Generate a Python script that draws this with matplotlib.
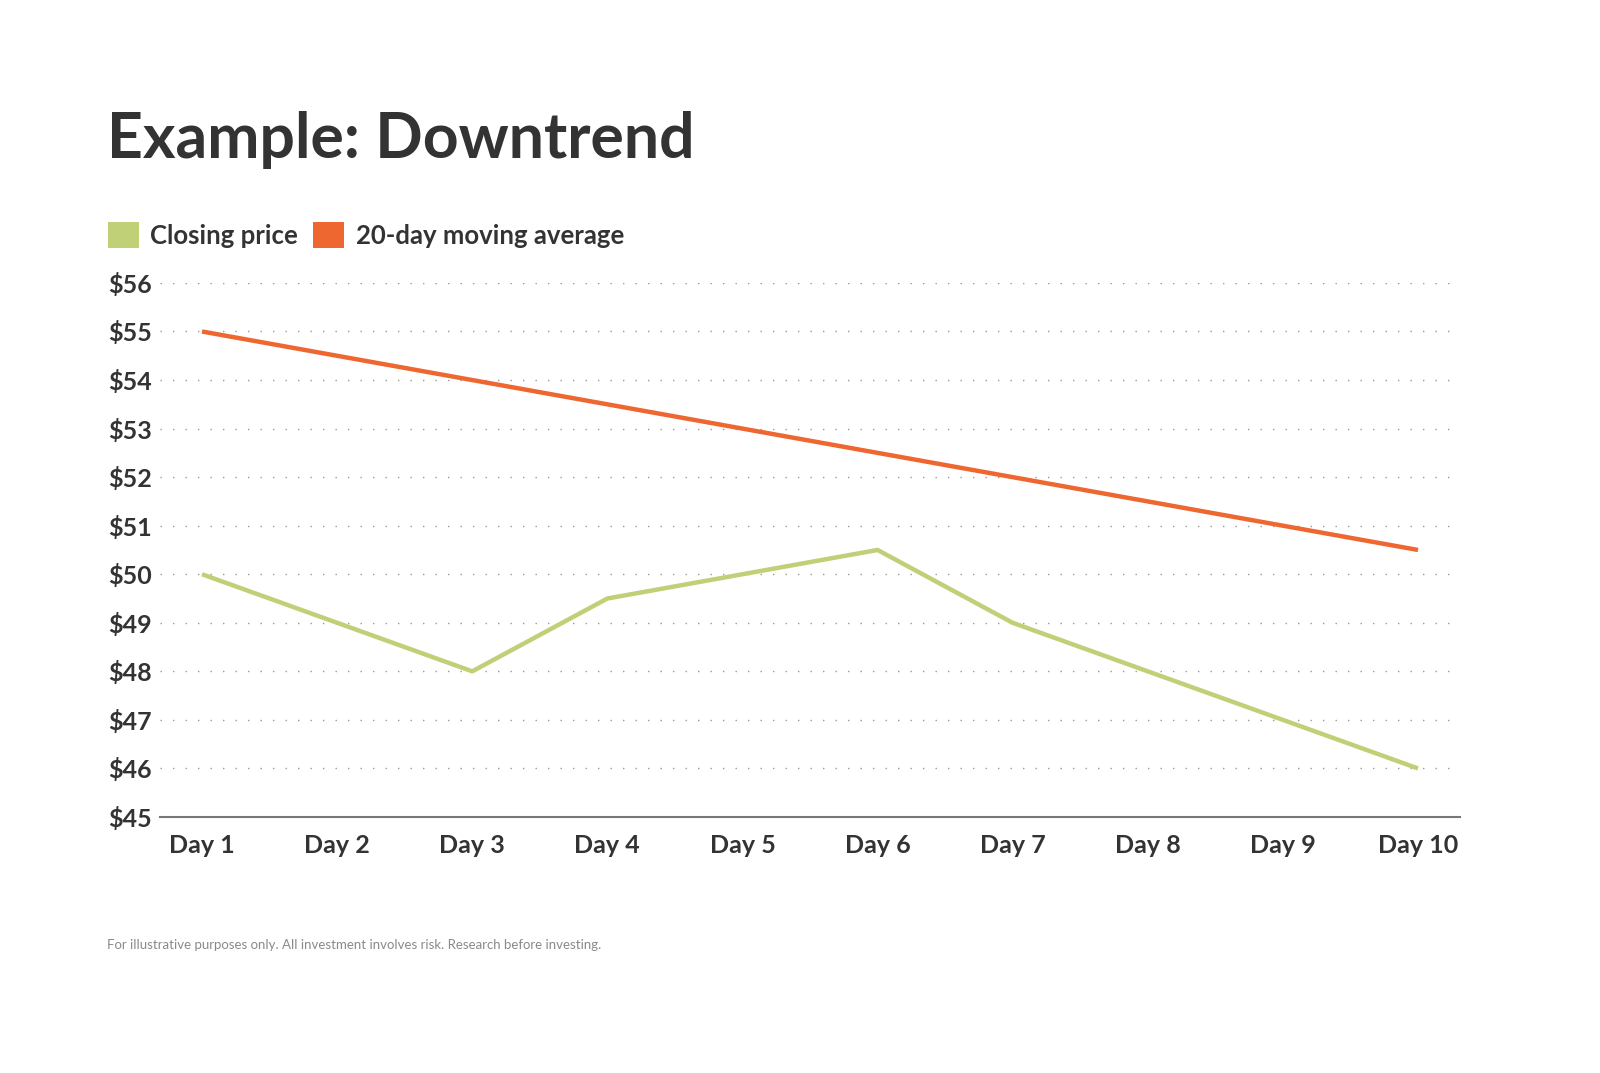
import numpy as np
import matplotlib
matplotlib.use("Agg")
import matplotlib.pyplot as plt
from matplotlib.patches import Patch

days = ["Day %d" % i for i in range(1, 11)]
closing = [50, 49, 48, 49.5, 50, 50.5, 49, 48, 47, 46]
moving_avg = [55, 54.5, 54, 53.5, 53, 52.5, 52, 51.5, 51, 50.5]
yticks = list(range(45, 57))
ylabels = ["$%d" % v for v in yticks]

GREEN = "#BFD077"
ORANGE = "#EF6730"
DARK = "#333333"

plt.rcParams["font.family"] = ["Lato", "DejaVu Sans"]

fig = plt.figure(figsize=(16, 10.73), dpi=100)
ax = fig.add_axes([0.1, 0.2386, 0.8125, 0.4977])

x = np.arange(1, len(days) + 1)
ax.plot(x, closing, color=GREEN, lw=3.2, solid_capstyle="butt", zorder=3)
ax.plot(x, moving_avg, color=ORANGE, lw=3.2, solid_capstyle="butt", zorder=3)

ax.set_xlim(0.689, 10.311)
ax.set_ylim(45, 56)
ax.set_yticks(yticks)
ax.set_yticklabels(ylabels)
ax.set_xticks(x)
ax.set_xticklabels(days)

# sparse dotted gridlines
for v in yticks[1:]:
    ax.axhline(v, color="#999999", lw=1.0, ls=(0, (1, 8)), zorder=1)

for s in ["top", "right", "left"]:
    ax.spines[s].set_visible(False)
ax.spines["bottom"].set_color("#777777")
ax.spines["bottom"].set_linewidth(1.5)

ax.tick_params(axis="both", length=0, labelsize=18, labelcolor=DARK)
ax.tick_params(axis="x", pad=12)
ax.tick_params(axis="y", pad=6)
for lbl in ax.get_xticklabels() + ax.get_yticklabels():
    lbl.set_fontweight("bold")

fig.text(0.067, 0.853, "Example: Downtrend", fontsize=45, fontweight="bold",
         color=DARK, va="baseline", ha="left")

handles = [Patch(facecolor=GREEN, label="Closing price"),
           Patch(facecolor=ORANGE, label="20-day moving average")]
leg = fig.legend(handles=handles, loc="center left", bbox_to_anchor=(0.053, 0.781),
                 ncol=2, frameon=False, fontsize=18.5, handlelength=1.2,
                 handleheight=1.2, handletextpad=0.45, columnspacing=0.6)
for t in leg.get_texts():
    t.set_fontweight("bold")
    t.set_color(DARK)

fig.text(0.067, 0.119, "For illustrative purposes only. All investment involves risk. "
         "Research before investing.", fontsize=9.5, color="#8a8a8a",
         va="center", ha="left")

fig.savefig("out.png", dpi=100, facecolor="white")
